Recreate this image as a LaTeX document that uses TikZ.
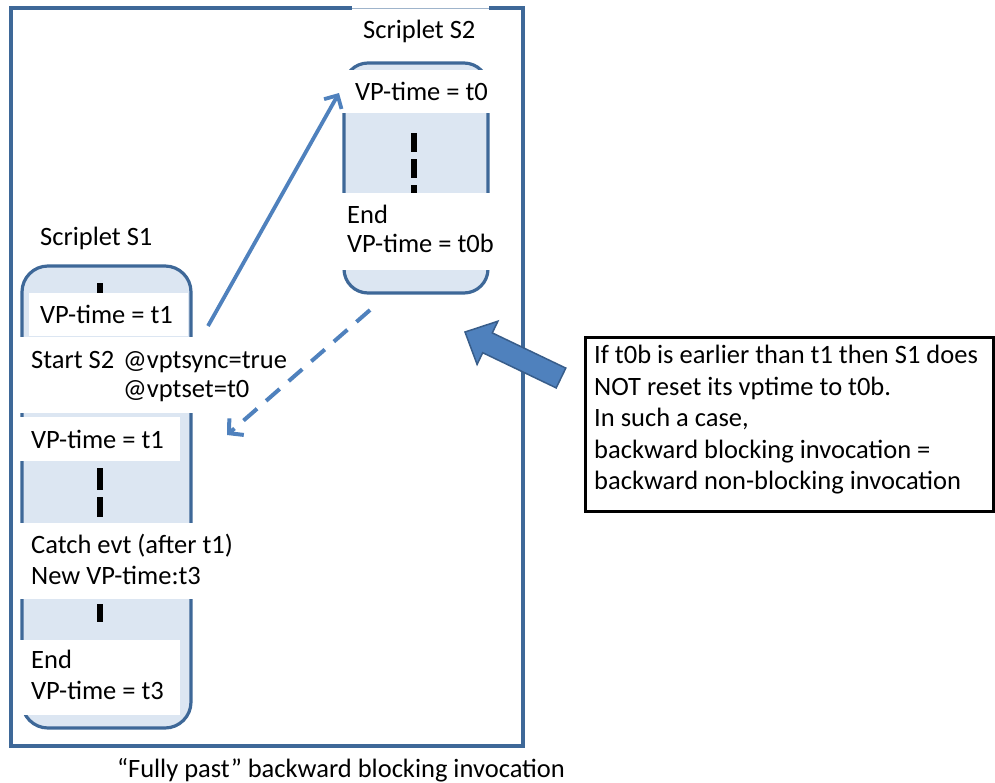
\documentclass[tikz,border=0pt]{standalone}
\usepackage{fontspec}
\setmainfont{Carlito}
\usetikzlibrary{arrows.meta}
\definecolor{bordblue}{HTML}{3E6898}
\definecolor{fillblue}{HTML}{DCE6F2}
\definecolor{arrblue}{HTML}{4F81BD}
\definecolor{darkarr}{HTML}{385D8A}
\begin{document}
\begin{tikzpicture}[x=1pt,y=-1pt,
  txt/.style={font=\fontsize{26.5}{32}\selectfont, inner sep=0pt, anchor=base west},
  wbox/.style={fill=white, draw=none},
  scrip/.style={draw=bordblue, line width=3.2pt, fill=fillblue},
  blackdash/.style={line width=6.5pt, black},
  solidarrow/.style={arrblue, line width=3.8pt, -{Straight Barb[length=10pt,width=20pt]}},
  dasharrow/.style={arrblue, line width=4pt, dash pattern=on 18pt off 12pt, -{Straight Barb[length=10pt,width=22pt]}},
]
\useasboundingbox (0,0) rectangle (995,782);
% outer frame
\draw[bordblue, line width=3.2pt] (11,8) rectangle (523,746);
\fill[white] (352,4) rectangle (489,50);
\draw[bordblue!50, line width=1pt] (352,8) -- (489,8);
\node[txt] (s2title) at (363,38) {Scriplet S2};
\node[txt] (s1title) at (40,245) {Scriplet S1};

% Scriplet S2
\draw[scrip, rounded corners=24pt] (344,63) rectangle (488,293);
\draw[blackdash] (414,133) -- (414,152) (414,159) -- (414,178) (414,185) -- (414,193);
\fill[wbox] (341,70) rectangle (491,113);
\fill[wbox] (341,193) rectangle (497,270);
\node[txt] (s2vp) at (355,100) {VP-time = t0};
\node[txt] (s2end) at (347,223) {End};
\node[txt] (s2vpend) at (347,252) {VP-time = t0b};

% Scriplet S1
\draw[scrip, rounded corners=26pt] (22,266) rectangle (191,728);
\draw[blackdash] (100,283) -- (100,293) (100,468) -- (100,490) (100,497) -- (100,517) (100,604) -- (100,622);
\fill[wbox] (29,293) rectangle (188,336);
\fill[wbox] (19,337) rectangle (295,413);
\fill[wbox] (19,417) rectangle (180,461);
\fill[wbox] (19,523) rectangle (240,599);
\fill[wbox] (19,640) rectangle (180,715);
\node[txt] (s1vpa) at (40,323) {VP-time = t1};
\node[txt] (s1start) at (31,368) {Start S2};
\node[txt] (s1sync) at (123,368) {@vptsync=true};
\node[txt] (s1set) at (123,397) {@vptset=t0};
\node[txt] (s1vpb) at (31,448) {VP-time = t1};
\node[txt] (s1catch) at (31,553) {Catch evt (after t1)};
\node[txt] (s1new) at (31,584) {New VP-time:t3};
\node[txt] (s1end) at (31,668) {End};
\node[txt] (s1vpend) at (31,699) {VP-time = t3};

% arrows
\coordinate (a1s) at (208,326);
\coordinate (a1e) at (339,93);
\draw[solidarrow] (a1s) -- (a1e);
\coordinate (a2s) at (370,310);
\coordinate (a2e) at (227,435);
\draw[dasharrow] (a2s) -- (a2e);

% block arrow
\filldraw[fill=arrblue, draw=darkarr, line width=1.5pt, line join=miter]
  (565.8,368.1) -- (492.3,332.9) -- (497.9,321.2) -- (465,332) -- (477.1,364.4) -- (482.7,352.7) -- (556.2,387.9) -- cycle;

% note box
\draw[black, line width=3pt] (585,337) rectangle (993,511);
\node[txt] (n1) at (594,363) {If t0b is earlier than t1 then S1 does};
\node[txt] (n2) at (594,395) {NOT reset its vptime to t0b.};
\node[txt] (n3) at (594,426) {In such a case,};
\node[txt] (n4) at (594,458) {backward blocking invocation =};
\node[txt] (n5) at (594,489) {backward non-blocking invocation};

% caption
\node[txt, anchor=base] (caption) at (341,777) {“Fully past” backward blocking invocation};
\end{tikzpicture}
\end{document}
